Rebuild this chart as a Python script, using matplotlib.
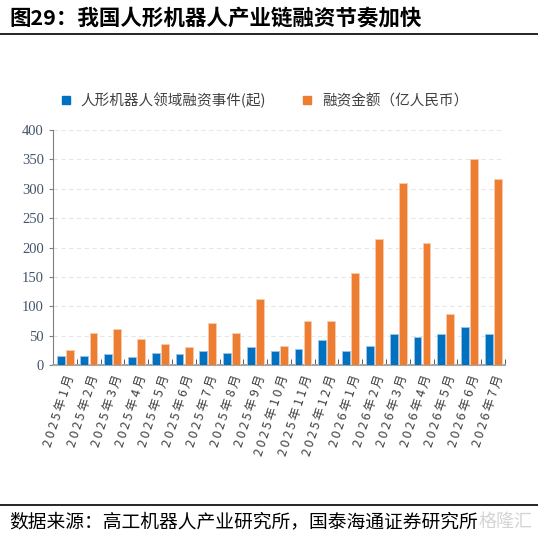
import numpy as np
import matplotlib.pyplot as plt
from matplotlib.lines import Line2D

plt.rcParams['font.family'] = ['Noto Sans CJK SC', 'DejaVu Sans']

months = ['2025年1月', '2025年2月', '2025年3月', '2025年4月', '2025年5月', '2025年6月',
          '2025年7月', '2025年8月', '2025年9月', '2025年10月', '2025年11月', '2025年12月',
          '2026年1月', '2026年2月', '2026年3月', '2026年4月', '2026年5月', '2026年6月',
          '2026年7月']
events = [16, 16, 18, 14, 20, 19, 24, 21, 30, 24, 27, 42, 23, 32, 53, 47, 52, 64, 52]
amount = [25, 55, 61, 45, 35, 30, 71, 54, 112, 32, 75, 75, 156, 215, 310, 208, 87, 350, 316]

blue = '#0070C0'
orange = '#ED7D31'

fig = plt.figure(figsize=(5.38, 5.41), dpi=100)
ax = fig.add_axes([0.0985, 0.3253, 0.8402, 0.4344])

x = np.arange(len(months))
w = 0.33
ax.bar(x - 0.18, events, w, color=blue, edgecolor='#9DC3E6', linewidth=0.6, zorder=3,
       label='人形机器人领域融资事件(起)')
ax.bar(x + 0.2, amount, w, color=orange, edgecolor='#F8CBAD', linewidth=0.6, zorder=3,
       label='融资金额（亿人民币）')

ax.set_xlim(-0.5, len(months) - 0.5)
ax.set_ylim(0, 400)
ax.yaxis.grid(True, linestyle=(0, (4, 3)), color='#E6E6E6', linewidth=0.8, zorder=0)

for s in ['top', 'right']:
    ax.spines[s].set_visible(False)
ax.spines['left'].set_color('#7F7F7F')
ax.spines['bottom'].set_color('#A6A6A6')
ax.spines['bottom'].set_linewidth(1.5)

ax.set_yticks(range(0, 401, 50))
ax.tick_params(axis='y', length=3, color='#7F7F7F', labelsize=10.5, labelcolor='#44546A')
for lbl in ax.get_yticklabels():
    lbl.set_fontfamily(['Liberation Serif', 'DejaVu Serif'])

# spaced-out month labels, like the original
spaced = ['\u2009'.join(m) for m in months]
ax.set_xticks(np.arange(len(months) + 1) - 0.5, minor=True)
ax.set_xticks(x)
ax.set_xticklabels(spaced, rotation=72, ha='right', rotation_mode='anchor',
                   fontsize=9, color='#404040')
ax.tick_params(axis='x', which='major', length=0, pad=6)
ax.tick_params(axis='x', which='minor', length=4, color='#404040', direction='in')

handles = [Line2D([], [], marker='s', linestyle='', color=blue, markersize=6),
           Line2D([], [], marker='s', linestyle='', color=orange, markersize=6)]
fig.legend(handles, ['人形机器人领域融资事件(起)', '融资金额（亿人民币）'],
           loc='center', bbox_to_anchor=(0.483, 0.815), ncol=2, frameon=False,
           fontsize=10.5, handletextpad=0.0, columnspacing=1.8, labelcolor='#404040')

fig.text(0.018, 0.967, '图29：我国人形机器人产业链融资节奏加快', fontsize=15.5,
         fontweight='bold', va='center', ha='left', color='black')
fig.add_artist(Line2D([0, 1], [0.937, 0.937], color='black', linewidth=1.2))
fig.add_artist(Line2D([0, 1], [0.066, 0.066], color='black', linewidth=1.2))
fig.text(0.018, 0.035, '数据来源：高工机器人产业研究所，国泰海通证券研究所', fontsize=13.5,
         va='center', ha='left', color='black')
fig.text(0.99, 0.035, '格隆汇', fontsize=13, va='center', ha='right',
         color='#D0D0D0', alpha=0.9)

fig.savefig('out.png', dpi=100)
